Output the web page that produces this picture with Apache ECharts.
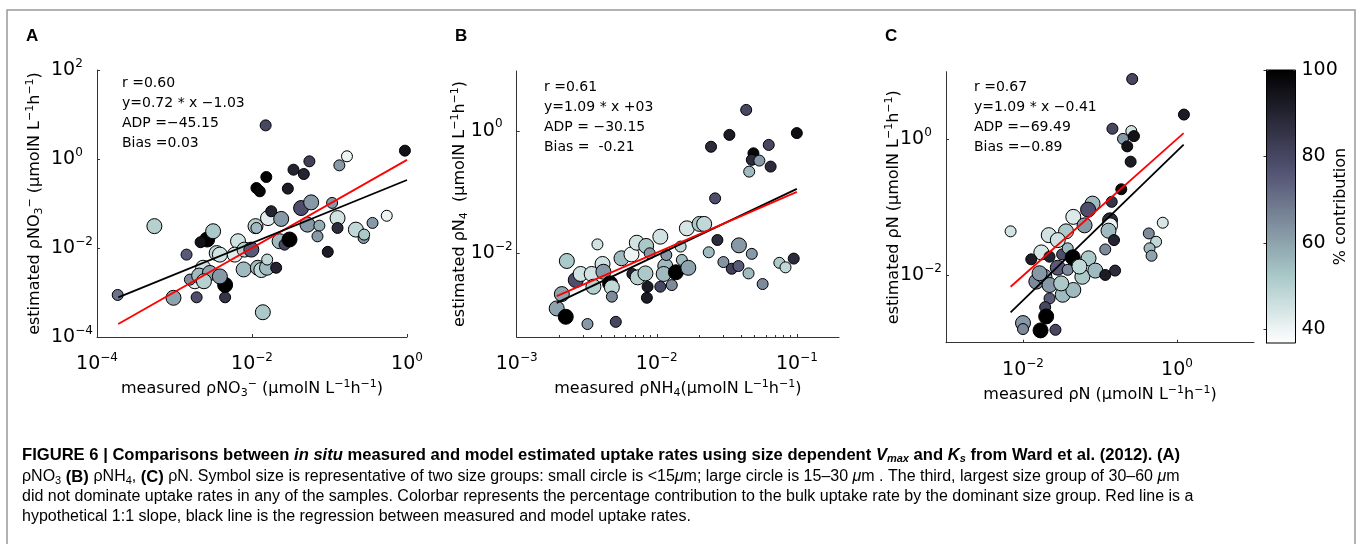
<!DOCTYPE html>
<html>
<head>
<meta charset="utf-8">
<script src="https://cdn.jsdelivr.net/npm/echarts@6/dist/echarts.min.js"></script>
<style>
html, body { margin: 0; padding: 0; background: #fff; }
#main { width: 1358px; height: 544px; }
</style>
</head>
<body>
<div id="main"></div>
<script>
// panel A: pNO3
var measuredA = [1.85e-4, 5.5e-4, 1.43e-3, 9.7e-4, 1.93e-3, 4.5e-3, 4.5e-3, 2.64e-3, 2.17e-3, 3.15e-3,
	3.5e-3, 3.85e-3, 2.34e-3, 1.83e-3, 1.58e-3, 2.08e-3, 2.86e-3, 3.85e-3, 2.4e-3, 6.6e-3,
	6.0e-3, 8.0e-3, 9.8e-3, 7.8e-3, 1.19e-2, 1.32e-2, 1.56e-2, 1.57e-2, 2.05e-2, 1.38e-2,
	1.11e-2, 1.14e-2, 1.61e-2, 1.77e-2, 2.38e-2, 2.27e-2, 2.63e-2, 3.05e-2, 1.14e-2, 1.26e-2,
	1.53e-2, 1.5e-2, 2.9e-2, 3.43e-2, 4.66e-2, 5.5e-2, 4.3e-2, 5.8e-2, 5.2e-2, 7.4e-2,
	7.0e-2, 9.5e-2, 0.108, 0.127, 0.127, 0.134, 0.168, 0.219, 0.275, 0.28,
	0.359, 0.548, 0.94];
var estimatedA = [8.8e-4, 3.1e-2, 7.1e-3, 7.6e-4, 7.8e-4, 7.8e-4, 1.48e-3, 1.55e-2, 1.35e-2, 2.38e-2,
	7.7e-3, 7.1e-3, 3.6e-3, 1.79e-3, 1.95e-3, 2.4e-3, 2.75e-3, 2.3e-3, 1.79e-3, 1.42e-2,
	7.1e-3, 9.2e-3, 9.2e-3, 3.3e-3, 3.6e-3, 3.2e-3, 3.6e-3, 5.5e-3, 3.6e-3, 3.6e-4,
	3.1e-2, 2.82e-2, 4.7e-2, 6.7e-2, 4.5e-2, 1.42e-2, 1.19e-2, 1.55e-2, 0.223, 0.188,
	0.394, 5.7, 0.216, 0.575, 0.46, 0.887, 7.9e-2, 0.106, 3.35e-2, 3.18e-2,
	1.83e-2, 8.2e-3, 0.103, 4.7e-2, 2.82e-2, 0.72, 1.15, 2.59e-2, 1.68e-2, 2.0e-2,
	3.66e-2, 5.3e-2, 1.54];
var percentA = [70, 50, 75, 60, 78, 85, 100, 100, 95, 52,
	48, 45, 45, 42, 65, 55, 60, 62, 50, 45,
	42, 50, 75, 55, 55, 48, 55, 48, 90, 52,
	50, 55, 42, 90, 62, 55, 80, 100, 100, 98,
	100, 80, 92, 90, 90, 82, 78, 62, 62, 58,
	62, 92, 62, 45, 88, 62, 40, 48, 62, 52,
	62, 40, 95];
var largeA = [0, 1, 0, 1, 0, 0, 1, 1, 0, 1,
	1, 1, 1, 1, 0, 1, 1, 1, 1, 1,
	1, 1, 1, 1, 1, 1, 1, 0, 0, 1,
	1, 0, 1, 0, 1, 1, 0, 1, 0, 0,
	0, 0, 0, 0, 0, 0, 1, 1, 1, 0,
	0, 0, 0, 1, 0, 0, 0, 1, 0, 0,
	0, 0, 0];

// panel B: pNH4
var measuredB = [4.35e-2, 3.3e-2, 2.44e-2, 0.1, 4.9e-2, 4.77e-2, 5.4e-2, 6.3e-2, 6.5e-2, 4.57e-2,
	2.61e-2, 1.64e-2, 2.02e-2, 2.18e-2, 2.71e-2, 2.35e-2, 3.86e-2, 4.77e-2, 2.99e-2, 3.43e-2,
	3.83e-2, 4.52e-2, 7.5e-2, 8.3e-2, 9.5e-2, 5.7e-2, 3.77e-3, 2.28e-3, 2.1e-3, 1.93e-3,
	2.24e-3, 3.2e-3, 5.1e-3, 2.64e-3, 2.86e-3, 3.43e-3, 4.1e-3, 4.16e-3, 3.53e-3, 4.64e-3,
	4.78e-3, 4.78e-3, 5.6e-3, 6.6e-3, 7.2e-3, 8.4e-3, 1.06e-2, 6.7e-3, 7.3e-3, 8.3e-3,
	8.6e-3, 8.5e-3, 1.06e-2, 1.15e-2, 1.12e-2, 1.28e-2, 1.37e-2, 1.51e-2, 1.68e-2, 1.48e-2,
	1.17e-2, 8.9e-3];
var estimatedB = [2.2, 0.86, 0.55, 0.92, 0.43, 0.336, 0.327, 0.59, 0.261, 0.216,
	7.9e-2, 2.56e-2, 3.02e-2, 3.02e-2, 1.65e-2, 1.04e-2, 1.35e-2, 9.8e-3, 7.2e-3, 5.6e-3,
	6.2e-3, 4.7e-3, 7.0e-3, 5.9e-3, 8.2e-3, 3.15e-3, 1.4e-2, 7.5e-3, 2.16e-3, 1.26e-3,
	9.2e-4, 7.0e-4, 7.6e-4, 3.66e-3, 4.6e-3, 4.6e-3, 6.7e-3, 5.0e-3, 2.85e-3, 3.23e-3,
	2.78e-3, 1.96e-3, 8.3e-3, 9.6e-3, 1.49e-2, 1.32e-2, 1.87e-2, 4.6e-3, 4.05e-3, 4.7e-3,
	2.85e-3, 1.88e-3, 2.85e-3, 6.2e-3, 4.6e-3, 3.03e-3, 4.9e-3, 7.8e-3, 5.8e-3, 1.29e-2,
	9.4e-3, 1.0e-2];
var percentB = [80, 92, 88, 96, 98, 88, 62, 80, 88, 55,
	78, 44, 52, 48, 88, 55, 62, 62, 63, 82,
	75, 55, 52, 48, 88, 65, 45, 52, 60, 60,
	100, 62, 80, 78, 45, 45, 45, 62, 50, 100,
	48, 65, 55, 40, 45, 52, 45, 90, 50, 52,
	92, 92, 80, 55, 55, 65, 100, 55, 60, 48,
	62, 62];
var largeB = [0, 0, 0, 0, 0, 0, 0, 0, 0, 0,
	0, 1, 1, 1, 0, 0, 1, 0, 0, 0,
	0, 0, 0, 0, 0, 0, 0, 1, 1, 1,
	1, 0, 0, 1, 1, 1, 1, 1, 1, 1,
	1, 0, 1, 1, 1, 1, 1, 0, 1, 1,
	0, 0, 0, 1, 1, 0, 1, 0, 1, 0,
	0, 0];

// panel C: pN
var measuredC = [0.262, 1.23, 0.145, 0.255, 0.199, 0.276, 0.226, 0.25, 0.189, 0.142,
	8.0e-2, 7.0e-2, 4.5e-2, 6.3e-2, 0.135, 0.135, 0.129, 0.152, 0.117, 6.9e-3,
	0.43, 0.653, 0.535, 0.44, 0.467, 2.16e-2, 3.62e-2, 2.83e-2, 1.73e-2, 1.28e-2,
	2.21e-2, 3.22e-2, 3.81e-2, 4.42e-2, 5.0e-2, 2.83e-2, 3.81e-2, 7.1e-2, 5.9e-2, 5.4e-2,
	8.7e-2, 0.117, 0.157, 1.49e-2, 1.9e-2, 2.21e-2, 3.28e-2, 4.5e-2, 3.13e-2, 2.21e-2,
	1.94e-2, 2.0e-2, 1.0e-2, 1.0e-2, 1.69e-2, 2.64e-2, 1.64e-2];
var estimatedC = [7.8, 2.33, 1.44, 1.33, 1.02, 1.12, 0.79, 0.47, 0.184, 0.12,
	0.113, 9.2e-2, 7.2e-2, 5.4e-2, 6.4e-2, 5.4e-2, 4.5e-2, 3.27e-2, 2.38e-2, 4.4e-2,
	4.1e-2, 5.9e-2, 3.09e-2, 2.47e-2, 1.92e-2, 3.87e-2, 4.4e-2, 3.27e-2, 2.15e-2, 1.7e-2,
	1.86e-2, 2.01e-2, 2.47e-2, 1.82e-2, 1.4e-2, 1.28e-2, 1.19e-2, 1.76e-2, 9.4e-3, 1.33e-2,
	1.16e-2, 1.0e-2, 1.16e-2, 7.98e-3, 9.4e-3, 7.1e-3, 5.1e-3, 6.0e-3, 7.5e-3, 4.5e-3,
	3.35e-3, 2.44e-3, 1.95e-3, 1.59e-3, 1.52e-3, 1.55e-3, 1.06e-2];
var percentC = [80, 92, 80, 45, 62, 95, 95, 92, 97, 85,
	55, 78, 43, 62, 88, 40, 55, 90, 65, 45,
	65, 44, 48, 55, 60, 45, 52, 45, 44, 92,
	90, 78, 55, 100, 78, 75, 65, 52, 52, 48,
	55, 92, 88, 65, 62, 62, 55, 55, 52, 75,
	80, 100, 62, 65, 100, 80, 62];
var largeC = [0, 0, 0, 0, 0, 0, 0, 0, 0, 0,
	1, 1, 1, 1, 1, 1, 1, 0, 0, 0,
	0, 0, 0, 0, 0, 1, 1, 1, 1, 0,
	0, 0, 0, 1, 0, 1, 0, 1, 1, 1,
	1, 0, 0, 1, 1, 1, 1, 1, 1, 0,
	0, 1, 1, 0, 1, 0, 1];

// 1:1 line (red) and regression line (black), end points
var oneToOneA = [[1.88e-4, 1.96e-4], [1.0, 0.955]];
var regressionA = [[1.88e-4, 7.8e-4], [1.0, 0.337]];
var oneToOneB = [[1.93e-3, 2.0e-3], [0.1, 0.101]];
var regressionB = [[1.93e-3, 1.55e-3], [0.1, 0.113]];
var oneToOneC = [[6.9e-3, 6.7e-3], [1.22, 1.24]];
var regressionC = [[6.9e-3, 2.8e-3], [1.22, 0.84]];

// tick labels
var ticksAx = [1e-4, 1e-2, 1];
var ticksAy = [1e-4, 1e-2, 1, 100];
var ticksBx = [1e-3, 1e-2, 1e-1];
var minorBx = [2e-3, 3e-3, 4e-3, 5e-3, 6e-3, 7e-3, 8e-3, 9e-3, 2e-2, 3e-2, 4e-2, 5e-2, 6e-2, 7e-2, 8e-2, 9e-2];
var ticksBy = [1e-2, 1];
var ticksCx = [1e-2, 1];
var ticksCy = [1e-2, 1];
var colorbarTicks = [40, 60, 80, 100];

var statsA = ['r =0.60', 'y=0.72 * x \u22121.03', 'ADP =\u221245.15', 'Bias =0.03'];
var statsB = ['r =0.61', 'y=1.09 * x +03', 'ADP = \u221230.15', 'Bias =  -0.21'];
var statsC = ['r =0.67', 'y=1.09 * x \u22120.41', 'ADP =\u221269.49', 'Bias =\u22120.89'];

var FONT = 'DejaVu Sans';
var CAP = 'Liberation Sans';

// matlab bone colormap, reversed (white = low, black = high)
function bone(t) {
	var c = function(v) { return Math.max(0, Math.min(1, v)); };
	var r = (7 * t + c((t - 0.75) / 0.25)) / 8;
	var g = (7 * t + c((t - 0.375) / 0.375)) / 8;
	var b = (7 * t + c(t / 0.375)) / 8;
	return 'rgb(' + Math.round(r * 255) + ',' + Math.round(g * 255) + ',' + Math.round(b * 255) + ')';
}
var boneColors = [];
for (var i = 0; i < 64; i++) {
	boneColors.push(bone(1 - i / 63));
}

function zip(xs, ys, ps, ls) {
	return xs.map(function(x, i) { return [x, ys[i], ps[i], ls[i]]; });
}

function expLabel(v) {
	var e = Math.round(Math.log10(v));
	return '{b|10}{s|' + (e < 0 ? '\u2212' + (-e) : e) + '}';
}

var labelRich = {
	b: { fontSize: 19, fontFamily: FONT, color: '#000', lineHeight: 22 },
	s: { fontSize: 12, fontFamily: FONT, color: '#000', padding: [0, 0, 13, 0] }
};
var nameRich = {
	n: { fontSize: 16, fontFamily: FONT, color: '#000' },
	sub: { fontSize: 11, fontFamily: FONT, color: '#000', padding: [9, 0, 0, 0] },
	sup: { fontSize: 11, fontFamily: FONT, color: '#000', padding: [0, 0, 9, 0] }
};

function logAxis(gridIndex, min, max, ticks, isY, name, nameGap) {
	return {
		type: 'log',
		logBase: 10,
		gridIndex: gridIndex,
		position: isY ? 'left' : 'bottom',
		min: min,
		max: max,
		name: name,
		nameLocation: 'middle',
		nameGap: nameGap,
		nameMoveOverlap: false,
		nameRotate: isY ? 90 : 0,
		nameTextStyle: { rich: nameRich },
		axisLine: { show: true, lineStyle: { color: '#333', width: 1 } },
		axisTick: { show: true, inside: true, length: 3, customValues: ticks, lineStyle: { color: '#333' } },
		axisLabel: {
			customValues: ticks,
			formatter: expLabel,
			rich: labelRich,
			margin: isY ? 46 : 15,
			align: isY ? 'left' : 'center'
		},
		splitLine: { show: false }
	};
}

function scatter(xi, yi, data) {
	return {
		type: 'scatter',
		xAxisIndex: xi,
		yAxisIndex: yi,
		data: data,
		symbol: 'circle',
		symbolSize: function(val) { return val[3] ? 15 : 11; },
		itemStyle: { borderColor: '#000', borderWidth: 1, opacity: 1 },
		z: 2
	};
}

function line(xi, yi, data, color) {
	return {
		type: 'line',
		xAxisIndex: xi,
		yAxisIndex: yi,
		data: data,
		showSymbol: false,
		symbol: 'none',
		lineStyle: { color: color, width: 1.8 },
		z: 5
	};
}

function statsText(x, y, lines) {
	return {
		type: 'text',
		x: x,
		y: y,
		z: 10,
		style: {
			text: lines.join('\n'),
			fontSize: 14,
			fontFamily: FONT,
			lineHeight: 20,
			fill: '#000'
		}
	};
}

function panelLetter(x, text) {
	return {
		type: 'text',
		x: x,
		y: 36,
		style: {
			text: text,
			fontSize: 17,
			fontWeight: 'bold',
			fontFamily: 'Liberation Sans',
			fill: '#000',
			verticalAlign: 'middle'
		}
	};
}

var capRich = {
	n: { fontSize: 16, fontFamily: CAP, color: '#222' },
	i: { fontSize: 16, fontFamily: CAP, fontStyle: 'italic', color: '#222' },
	sub: { fontSize: 11, fontFamily: CAP, color: '#222', padding: [7, 0, 0, 0] },
	b: { fontSize: 16.6, fontFamily: CAP, fontWeight: 'bold', color: '#222' },
	bi: { fontSize: 16.6, fontFamily: CAP, fontWeight: 'bold', fontStyle: 'italic', color: '#222' },
	bisub: { fontSize: 11, fontFamily: CAP, fontWeight: 'bold', fontStyle: 'italic', color: '#222', padding: [7, 0, 0, 0] },
	g: { fontSize: 16.6, fontFamily: CAP, fontWeight: 'bold', color: '#8c8c8c' }
};
var captionLines = [
	'{b|FIGURE 6 | Comparisons between }{bi|in situ}{b| measured and model estimated uptake rates using size dependent }{bi|V}{bisub|max}{b| and }{bi|K}{bisub|s}{b| from }{g|Ward et al. (2012)}{b|. (A)}',
	'{n|\u03c1NO}{sub|3}{b| (B) }{n|\u03c1NH}{sub|4}{n|, }{b|(C)}{n| \u03c1N. Symbol size is representative of two size groups: small circle is <15}{i|\u03bc}{n|m; large circle is 15\u201330 }{i|\u03bc}{n|m . The third, largest size group of 30\u201360 }{i|\u03bc}{n|m}',
	'{n|did not dominate uptake rates in any of the samples. Colorbar represents the percentage contribution to the bulk uptake rate by the dominant size group. Red line is a}',
	'{n|hypothetical 1:1 slope, black line is the regression between measured and model uptake rates.}'
];
var captionY = [455, 477, 497, 517];

var graphics = [
	{
		type: 'rect',
		silent: true,
		shape: { x: 7, y: 10, width: 1348, height: 580 },
		style: { fill: 'none', stroke: '#999', lineWidth: 1.5 }
	},
	panelLetter(26, 'A'),
	panelLetter(455, 'B'),
	panelLetter(885, 'C'),
	statsText(122, 73, statsA),
	statsText(544, 77, statsB),
	statsText(974, 77, statsC),
	{
		type: 'rect',
		silent: true,
		z: 20,
		shape: { x: 1266.5, y: 70, width: 29, height: 273 },
		style: { fill: 'none', stroke: '#000', lineWidth: 1 }
	}
];
captionLines.forEach(function(t, k) {
	graphics.push({
		type: 'text',
		x: 22,
		y: captionY[k],
		style: { text: t, rich: capRich, verticalAlign: 'middle' }
	});
});

var chart = echarts.init(document.getElementById('main'));
chart.setOption({
	animation: false,
	backgroundColor: '#fff',
	grid: [
		{ left: 97, top: 70, width: 310, height: 267 },
		{ left: 516.7, top: 71, width: 322.3, height: 266 },
		{ left: 946, top: 71.7, width: 308, height: 271 },
		{ left: 1266.5, top: 70, width: 29, height: 273 }
	],
	xAxis: [
		logAxis(0, 1e-4, 1, ticksAx, false,
			'{n|measured \u03c1NO}{sub|3}{sup|\u2212}{n| (\u03bcmolN L}{sup|\u22121}{n|h}{sup|\u22121}{n|)}', 42),
		logAxis(1, 1e-3, 0.2, ticksBx, false,
			'{n|measured \u03c1NH}{sub|4}{n|(\u03bcmolN L}{sup|\u22121}{n|h}{sup|\u22121}{n|)}', 42),
		logAxis(2, 1e-3, 10, ticksCx, false,
			'{n|measured \u03c1N (\u03bcmolN L}{sup|\u22121}{n|h}{sup|\u22121}{n|)}', 42),
		{ type: 'value', gridIndex: 3, show: false, min: 0, max: 1 },
		{
			type: 'log', gridIndex: 1, position: 'bottom', min: 1e-3, max: 0.2,
			axisLine: { show: false }, axisLabel: { show: false }, splitLine: { show: false },
			axisTick: { show: true, inside: true, length: 2, customValues: minorBx, lineStyle: { color: '#333' } }
		}
	],
	yAxis: [
		logAxis(0, 1e-4, 100, ticksAy, true,
			'{n|estimated \u03c1NO}{sub|3}{sup|\u2212}{n| (\u03bcmolN L}{sup|\u22121}{n|h}{sup|\u22121}{n|)}', 52),
		logAxis(1, 4.3e-4, 9.5, ticksBy, true,
			'{n|estimated \u03c1N}{sub|4}{n|  (\u03bcmolN L}{sup|\u22121}{n|h}{sup|\u22121}{n|)}', 47),
		logAxis(2, 1e-3, 10, ticksCy, true,
			'{n|estimated \u03c1N (\u03bcmolN L}{sup|\u22121}{n|h}{sup|\u22121}{n|)}', 42),
		{
			type: 'value',
			gridIndex: 3,
			position: 'right',
			min: 36.8,
			max: 100,
			z: 10,
			name: '% contribution',
			nameLocation: 'middle',
			nameGap: 37,
			nameMoveOverlap: false,
			nameRotate: 90,
			nameTextStyle: { fontSize: 16, fontFamily: FONT, color: '#000' },
			axisLine: { show: true, lineStyle: { color: '#000' } },
			axisTick: { show: true, inside: true, length: 3, customValues: colorbarTicks, lineStyle: { color: '#333' } },
			axisLabel: { customValues: colorbarTicks, fontSize: 19, fontFamily: FONT, color: '#000', margin: 6 },
			splitLine: { show: false }
		}
	],
	visualMap: {
		type: 'continuous',
		min: 36.8,
		max: 100,
		dimension: 2,
		seriesIndex: [0, 1, 2],
		inRange: { color: boneColors },
		calculable: false,
		show: true,
		orient: 'vertical',
		left: 1266.5,
		top: 70,
		itemWidth: 29,
		itemHeight: 273,
		padding: 0,
		textStyle: { color: 'transparent' },
		text: null
	},
	graphic: graphics,
	series: [
		scatter(0, 0, zip(measuredA, estimatedA, percentA, largeA)),
		scatter(1, 1, zip(measuredB, estimatedB, percentB, largeB)),
		scatter(2, 2, zip(measuredC, estimatedC, percentC, largeC)),
		line(0, 0, oneToOneA, '#ff0000'),
		line(0, 0, regressionA, '#000000'),
		line(1, 1, regressionB, '#000000'),
		line(1, 1, oneToOneB, '#ff0000'),
		line(2, 2, oneToOneC, '#ff0000'),
		line(2, 2, regressionC, '#000000')
	]
});
</script>
</body>
</html>
